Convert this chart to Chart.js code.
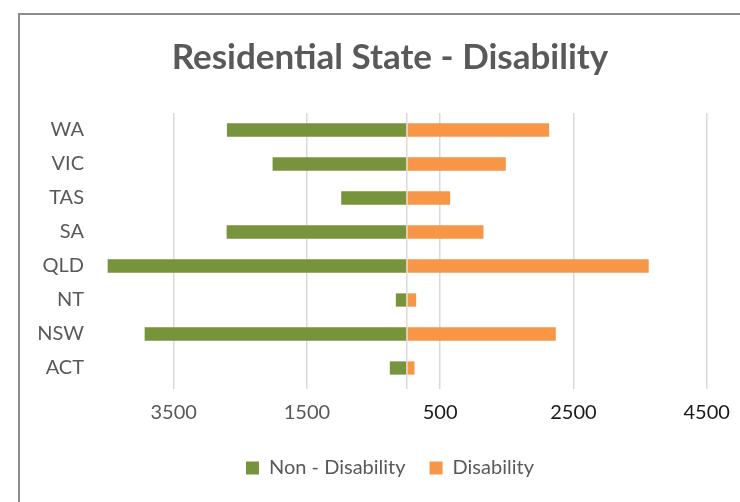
<!DOCTYPE html>
<html>
<head>
<meta charset="utf-8">
<script src="https://cdn.jsdelivr.net/npm/chart.js@4.4.1/dist/chart.umd.min.js"></script>
<style>
  html, body { margin: 0; padding: 0; background: #fff; overflow: hidden; }
  #wrap { position: relative; width: 740px; height: 502px; overflow: hidden; }
  #cadre {
    position: absolute; left: 18px; top: 13px; width: 800px; height: 600px;
    border-left: 2px solid #8c8c8c; border-top: 2px solid #8c8c8c;
  }
  canvas { position: absolute; left: 0; top: 0; }
</style>
</head>
<body>
<div id="wrap">
  <div id="cadre"></div>
  <!-- le graphique d'origine depasse a droite, on garde donc un canvas plus large -->
  <canvas id="mon-graphique" width="760" height="502"></canvas>
</div>
<script>
// categories du haut vers le bas
const etats = ['WA', 'VIC', 'TAS', 'SA', 'QLD', 'NT', 'NSW', 'ACT'];
// valeurs
const nonHandicap = [2700, 2015, 985, 2705, 4490, 165, 3935, 255];
const handicap = [2135, 1485, 650, 1150, 3630, 140, 2235, 115];
// graduations de l'axe horizontal (0 = ligne centrale sans libelle)
const graduationsX = [-3500, -1500, 0, 500, 2500, 4500];

const police = 'Lato, "Open Sans", sans-serif';

const datas = {
  labels: etats,
  datasets: [
    {
      label: 'Non - Disability',
      data: nonHandicap.map((v) => -v), // a gauche de l'axe
      backgroundColor: '#77933C',
    },
    {
      label: 'Disability',
      data: handicap,
      backgroundColor: '#F79646',
    },
  ],
};

const config = {
  type: 'bar',
  data: datas,
  options: {
    indexAxis: 'y',
    responsive: false,
    animation: false,
    layout: { padding: { left: 20, right: 0, top: 0, bottom: 14 } },
    datasets: { bar: { categoryPercentage: 1, barPercentage: 0.39 } },
    scales: {
      x: {
        stacked: true,
        min: -4500,
        max: 5300, // la zone de trace continue hors de l'image
        afterBuildTicks: (scale) => {
          scale.ticks = graduationsX.map((v) => ({ value: v }));
        },
        afterFit: (scale) => { scale.height = 49; },
        border: { display: false },
        grid: { color: '#d9d9d9', lineWidth: 1.5, drawTicks: true, tickLength: 4 },
        ticks: {
          autoSkip: false,
          maxRotation: 0,
          padding: 12,
          font: { family: police, size: 20 },
          color: (ctx) => (ctx.tick && ctx.tick.value < 0 ? '#595959' : '#1a1a1a'),
          callback: (value) => (value === 0 ? '' : Math.abs(value)),
        },
      },
      y: {
        stacked: true,
        afterFit: (scale) => { scale.width = 87; },
        border: { display: false },
        grid: { display: false, drawTicks: false },
        ticks: {
          padding: 23,
          font: { family: police, size: 20 },
          color: '#595959',
        },
      },
    },
    plugins: {
      title: {
        display: true,
        text: 'Residential State - Disability',
        color: '#595959',
        font: { family: police, size: 35, weight: 'bold' },
        padding: { top: 37, bottom: 34 },
      },
      legend: {
        position: 'bottom',
        labels: {
          boxWidth: 13,
          boxHeight: 13,
          padding: 24,
          color: '#595959',
          font: { family: police, size: 20 },
        },
      },
      tooltip: { enabled: false },
    },
  },
};

const ctx = document.getElementById('mon-graphique');
new Chart(ctx, config);
</script>
</body>
</html>
